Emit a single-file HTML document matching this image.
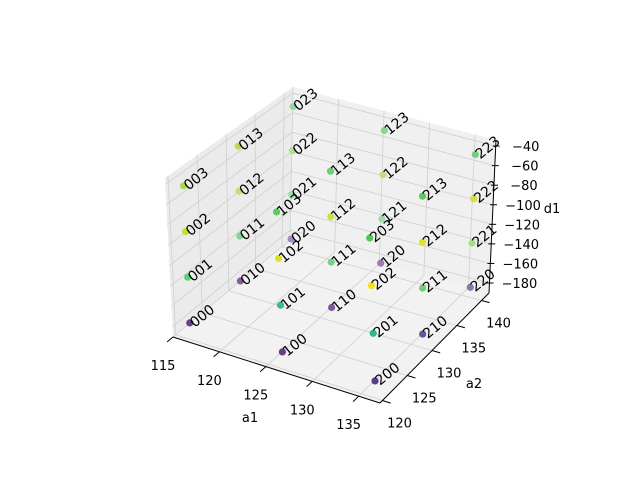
<!DOCTYPE html>
<html><head><meta charset="utf-8"><style>
body{margin:0;background:#fff}
svg{display:block;font-family:"DejaVu Sans","Liberation Sans",sans-serif}
</style></head><body>
<svg id="chart" width="640" height="480" viewBox="0 0 640 480">
<g id="panes"></g>
<g id="grid"></g>
<g id="axes"></g>
<g id="pts"></g>
<text x="250" y="422" font-size="13" text-anchor="middle">a1</text>
<text x="474" y="388" font-size="13" text-anchor="middle">a2</text>
<text x="552" y="213" font-size="13" text-anchor="middle">d1</text>
</svg>
<script>
const a1Values=[116,126,136];
const a2Values=[121,130.5,140];
const d1Values=[-180,-135,-90,-45];
const pointColors=[
"#6a3d8a","#5ccf7a","#c9dd2e","#a8d94a",
"#8a5a9a","#80d49a","#c0e070","#b8dd50",
"#a88ab8","#9adcaa","#b0e090","#98d898",
"#6a3d8a","#3cba8a","#e0e020","#5ccc5c",
"#7a5a9a","#7ad08a","#cce040","#6ad070",
"#9a80b0","#a0dca8","#c0e080","#88d490",
"#5a3d8a","#30b888","#f5e020","#50c850",
"#6a50a0","#70d070","#e0e030","#60c860",
"#8878b0","#a8e080","#d8e040","#70d080"];
const a1Ticks=[115,120,125,130,135];
const a2Ticks=[120,125,130,135,140];
const d1Ticks=[-180,-160,-140,-120,-100,-80,-60,-40];
const a1Lim=[115,137.3], a2Lim=[119.5,141.5], d1Lim=[-190.2,-33.8];
const C={"000":[173,337],"100":[380,403],"110":[489,293],"010":[290,240],
"001":[165,178],"011":[293,87],"111":[496,140],"101":[373,236]};
function lerp(a,b,t){return [a[0]+(b[0]-a[0])*t,a[1]+(b[1]-a[1])*t];}
function P(u,v,w){
 const b0=lerp(lerp(C["000"],C["100"],u),lerp(C["010"],C["110"],u),v);
 const b1=lerp(lerp(C["001"],C["101"],u),lerp(C["011"],C["111"],u),v);
 return lerp(b0,b1,w);}
const U=a=>(a-a1Lim[0])/(a1Lim[1]-a1Lim[0]);
const V=a=>(a-a2Lim[0])/(a2Lim[1]-a2Lim[0]);
const W=d=>(d-d1Lim[0])/(d1Lim[1]-d1Lim[0]);
const NS="http://www.w3.org/2000/svg";
function mk(tag,attrs,parent){const e=document.createElementNS(NS,tag);for(const k in attrs)e.setAttribute(k,attrs[k]);parent.appendChild(e);return e;}
function poly(pts,fill,parent,name){const e=mk("polygon",{points:pts.map(p=>p.join(",")).join(" "),fill:fill},parent);

}
function line(p,q,stroke,w,parent,name){const e=mk("line",{x1:p[0],y1:p[1],x2:q[0],y2:q[1],stroke:stroke,"stroke-width":w},parent);

return e;}
const panes=document.getElementById("panes"),grid=document.getElementById("grid"),axes=document.getElementById("axes");
poly([P(0,0,0),P(1,0,0),P(1,1,0),P(0,1,0)],"#f2f2f2",panes,"floor-pane");
poly([P(0,0,0),P(0,1,0),P(0,1,1),P(0,0,1)],"#ebebeb",panes,"left-pane");
poly([P(0,1,0),P(1,1,0),P(1,1,1),P(0,1,1)],"#f0f0f0",panes,"back-pane");
const gc="#cfcfcf";
a1Ticks.forEach(t=>{const u=U(t);line(P(u,0,0),P(u,1,0),gc,0.8,grid,"grid-a1-floor");line(P(u,1,0),P(u,1,1),gc,0.8,grid,"grid-a1-back");});
a2Ticks.forEach(t=>{const v=V(t);line(P(0,v,0),P(1,v,0),gc,0.8,grid,"grid-a2-floor");line(P(0,v,0),P(0,v,1),gc,0.8,grid,"grid-a2-left");});
d1Ticks.forEach(t=>{const w=W(t);line(P(0,0,w),P(0,1,w),gc,0.8,grid,"grid-d1-left");line(P(0,1,w),P(1,1,w),gc,0.8,grid,"grid-d1-back");});
line(P(0,0,0),P(1,0,0),"#000",1,axes,"x-axis-line");
line(P(1,0,0),P(1,1,0),"#000",1,axes,"y-axis-line");
line(P(1,1,0),P(1,1,1),"#000",1,axes,"z-axis-line");
function label(x,y,txt,anchor,parent,name){const e=mk("text",{x:x,y:y,"font-size":13,"text-anchor":anchor},parent);e.textContent=txt;

}
a1Ticks.forEach(t=>{const u=U(t);const p=P(u,0,0),q=P(u,-0.05,0);line(p,q,"#000",1,axes,"x-tick");label(p[0]-10,p[1]+33,String(t),"middle",axes,"x-tick-label");});
a2Ticks.forEach(t=>{const v=V(t);const p=P(1,v,0),q=P(1.04,v,0);line(p,q,"#000",1,axes,"y-tick");label(p[0]+17,p[1]+27,String(t),"middle",axes,"y-tick-label");});
d1Ticks.forEach(t=>{const w=W(t);const p=P(1,1,w);line([p[0]-3,p[1]],[p[0]+4,p[1]],"#000",1,axes,"z-tick");label(p[0]+30,p[1]+5,"\u2212"+Math.abs(t),"middle",axes,"z-tick-label");});
const pts=document.getElementById("pts");
const order=[];
a1Values.forEach((a,i)=>a2Values.forEach((b,j)=>d1Values.forEach((d,k)=>order.push([i,j,k]))));
order.sort((A,B)=>(B[1]-A[1])||(A[0]-B[0]));
order.forEach(([i,j,k])=>{
 const p=P(U(a1Values[i]),V(a2Values[j]),W(d1Values[k]));
 const c=mk("circle",{cx:p[0].toFixed(1),cy:p[1].toFixed(1),r:3.6,fill:pointColors[i*12+j*4+k]},pts);
 
 
 const t=mk("text",{x:0,y:0,"font-size":14,transform:`translate(${(p[0]+5).toFixed(1)},${(p[1]+5).toFixed(1)}) rotate(-39)`},pts);
 t.textContent=""+i+j+k;
 
 
});
</script>
</body></html>
